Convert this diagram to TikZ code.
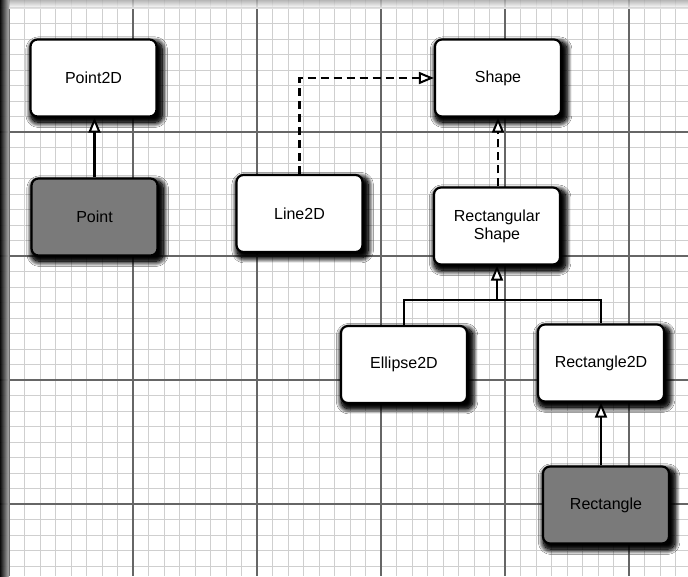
\documentclass[tikz,border=0pt]{standalone}
\usepackage{fontspec}
\setmainfont{Liberation Sans}
\usetikzlibrary{arrows.meta,shadows.blur}
\tikzset{
  cls/.style={draw=black, line width=2.2pt, rounded corners=7pt, fill=white,
    minimum width=126pt, minimum height=77pt, align=center, inner sep=2pt,
    font=\fontsize{16}{18}\selectfont,
    blur shadow={shadow xshift=4pt, shadow yshift=-5pt, shadow blur radius=9pt,
      shadow opacity=100, shadow scale=1.08, shadow blur steps=16},
    blur shadow={shadow xshift=3pt, shadow yshift=-4pt, shadow blur radius=5pt,
      shadow opacity=100, shadow scale=1.04, shadow blur steps=12}},
  concrete/.style={cls, fill=black!52},
  inh/.style={line width=2.2pt, -{Triangle[open, fill=white, length=15pt, width=12pt, line width=2pt]}},
  impl/.style={inh, dash pattern=on 8pt off 5pt},
  link/.style={line width=2.2pt},
  fine/.style={gray!38, line width=0.7pt},
  major/.style={black!60, line width=1.2pt}
}
\begin{document}
\begin{tikzpicture}[x=1pt, y=-1pt]
\useasboundingbox (0,0) rectangle (688,576);
\fill[white] (0,0) rectangle (688,576);
% grid
\foreach \k in {0,...,44} \draw[fine] (9+15.5*\k,0) -- (9+15.5*\k,576);
\foreach \k in {0,...,36} \draw[fine] (0,8+15.5*\k) -- (688,8+15.5*\k);
\foreach \k in {0,...,5} \draw[major] (9+124*\k,0) -- (9+124*\k,576);
\foreach \k in {0,...,4} \draw[major] (0,8+124*\k) -- (688,8+124*\k);
% scan edges
\shade[top color=black!35, bottom color=white, opacity=0.8] (0,0) rectangle (688,8);
\shade[left color=black, right color=black!30, opacity=0.95] (0,0) rectangle (9,576);

% classes
\node[cls] (p2d) at (93.5,78) {Point2D};
\node[concrete] (pt) at (94.5,217) {Point};
\node[cls] (l2d) at (299.5,213.5) {Line2D};
\node[cls] (shape) at (498,78) {Shape};
\node[cls] (rshape) at (497,226) {Rectangular\\Shape};
\node[cls] (ell) at (404,364.5) {Ellipse2D};
\node[cls] (r2d) at (601,363) {Rectangle2D};
\node[concrete] (rect) at (606,505) {Rectangle};

% connectors
\draw[inh] (pt.north) -- (pt.north |- p2d.south);
\draw[impl] (l2d.north) |- (shape.west);
\draw[impl] (shape.south |- rshape.north) -- (shape.south);
\coordinate (j) at (rshape.south |- 0,300);
\draw[link] (ell.north) |- (j) -| (r2d.north);
\draw[inh] (j) -- (rshape.south);
\draw[inh] (r2d.south |- rect.north) -- (r2d.south);
\end{tikzpicture}
\end{document}
